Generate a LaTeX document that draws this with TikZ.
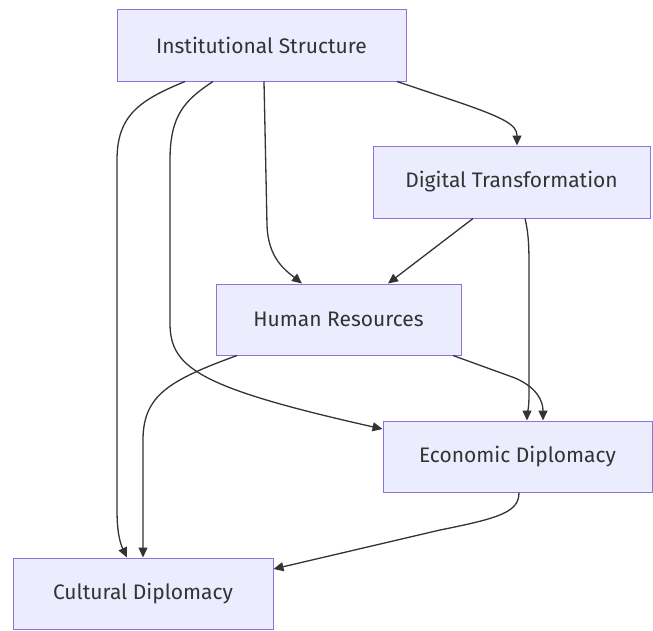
\documentclass[tikz,border=0pt]{standalone}
\usepackage{fontspec}
\setmainfont{Fira Sans}
\usetikzlibrary{arrows.meta}
\definecolor{nodefill}{HTML}{ECECFF}
\definecolor{nodeline}{HTML}{9370DB}
\definecolor{edgecol}{HTML}{333333}
\tikzset{
  box/.style={draw=nodeline, fill=nodefill, line width=1pt, rectangle, inner sep=0pt,
    text=edgecol, font=\fontsize{21}{25}\selectfont},
  link/.style={draw=edgecol, line width=1.3pt, -{Triangle[length=10pt,width=9pt]}}
}
\begin{document}
\begin{tikzpicture}[x=1pt,y=-1pt]
\useasboundingbox (0,0) rectangle (653,630);
\node[box, minimum width=289pt, minimum height=72pt] (inst) at (261.5,45) {Institutional Structure};
\node[box, minimum width=277pt, minimum height=72pt] (dig) at (511.5,182) {Digital Transformation};
\node[box, minimum width=245pt, minimum height=71pt] (hum) at (338.5,319.5) {Human Resources};
\node[box, minimum width=269pt, minimum height=71pt] (eco) at (517.5,456.5) {Economic Diplomacy};
\node[box, minimum width=260pt, minimum height=71pt] (cul) at (143,593.5) {Cultural Diplomacy};

% Inst -> Cultural
\draw[link] ([xshift=-76.5pt]inst.south) .. controls (140,100) and (117,115) .. (117,160)
  -- (117,510) .. controls (117,535) and (121,545) .. ([xshift=-16pt]cul.north);
% Inst -> Economic
\draw[link] ([xshift=-48.5pt]inst.south) .. controls (185,100) and (170,115) .. (170,160)
  -- (170,325) .. controls (171,368) and (200,388) .. ([yshift=27.5pt]eco.west);
% Inst -> Human
\draw[link] ([xshift=2.5pt]inst.south) -- (267,225) .. controls (268,258) and (285,270) .. ([xshift=-36.5pt]hum.north);
% Inst -> Digital
\draw[link] ([xshift=135.5pt]inst.south) -- (455,101) .. controls (505,118) and (517,125) .. ([xshift=5.5pt]dig.north);
% Digital -> Human
\draw[link] ([xshift=-38.5pt]dig.south) -- ([xshift=49.5pt]hum.north);
% Digital -> Economic
\draw[link] ([xshift=13.5pt]dig.south) .. controls (529,235) and (529,250) .. (529,270)
  -- (529,395) .. controls (529,410) and (527,415) .. ([xshift=9.5pt]eco.north);
% Human -> Economic
\draw[link] ([xshift=114.5pt]hum.south) -- (515,378) .. controls (538,388) and (543,402) .. ([xshift=25.5pt]eco.north);
% Human -> Cultural
\draw[link] ([xshift=-101.5pt]hum.south) .. controls (170,380) and (143,395) .. (143,440) -- (cul.north);
% Economic -> Cultural
\draw[link] ([xshift=1.5pt]eco.south) .. controls (519,512) and (500,518) .. (440,530) -- ([yshift=24.5pt]cul.east);
\end{tikzpicture}
\end{document}
